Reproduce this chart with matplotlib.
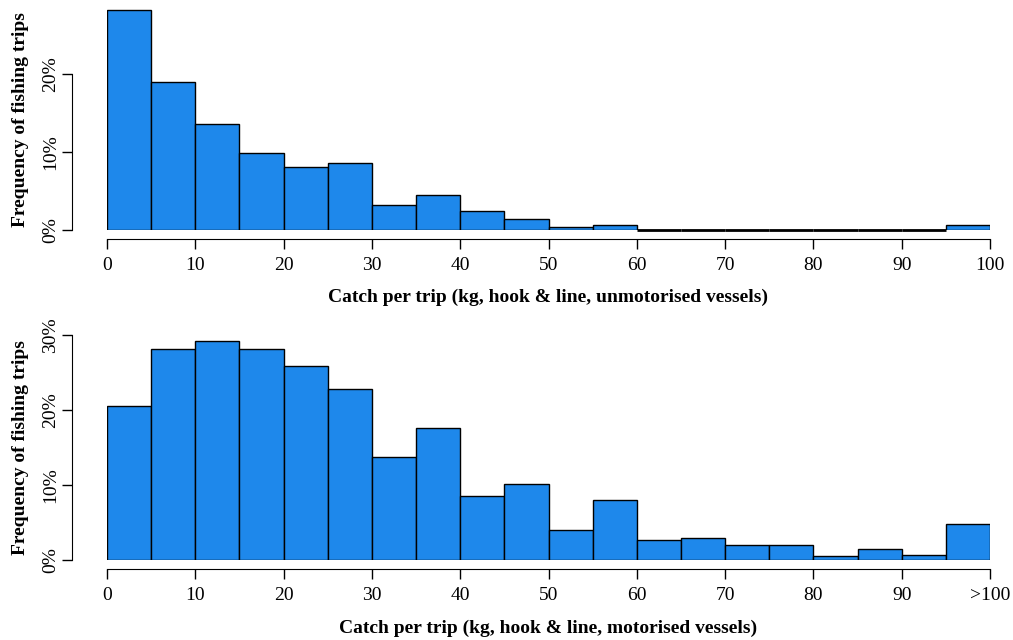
import matplotlib.pyplot as plt
import numpy as np

plt.rcParams['font.family'] = ['Liberation Serif', 'DejaVu Serif']

# bins of 5 kg, 0 to 100
bin_left = np.arange(0, 100, 5)

# percent of trips, unmotorised vessels
unmotorised = [28.2, 19.0, 13.6, 9.9, 8.1, 8.6, 3.2, 4.5, 2.4, 1.4,
               0.4, 0.7, 0, 0, 0, 0, 0, 0, 0, 0.7]
# percent of trips, motorised vessels
motorised = [20.5, 28.1, 29.2, 28.1, 25.9, 22.8, 13.7, 17.6, 8.5, 10.1,
             4.0, 8.0, 2.7, 2.9, 2.0, 2.0, 0.5, 1.5, 0.7, 4.8]

top_xticks = [str(v) for v in range(0, 101, 10)]
bot_xticks = [str(v) for v in range(0, 91, 10)] + ['>100']

W, H = 1013, 640
fig = plt.figure(figsize=(W / 100, H / 100), dpi=100)
bar_color = '#1E88EB'


def panel(y0, px_per_pct, ymax, yticks, values, xlabels, xlabel, xlab_y):
    # y0 = pixel row of 0%, from top
    top = y0 - ymax * px_per_pct
    ax = fig.add_axes([107 / W, 1 - y0 / H, 883 / W, (y0 - top) / H])
    ax.bar(bin_left, values, width=5, align='edge', color=bar_color,
           edgecolor='black', linewidth=1.0)
    # empty bins still show as a flat outline, like R's hist
    empty = bin_left[np.array(values) == 0]
    ax.hlines(np.zeros(len(empty)), empty, empty + 5, color='black',
              linewidth=2.0, clip_on=False)
    ax.set_xlim(0, 100)
    ax.set_ylim(0, ymax)
    for s in ['top', 'right']:
        ax.spines[s].set_visible(False)
    ax.spines['bottom'].set_position(('outward', 6.2))
    ax.spines['left'].set_position(('outward', 25))
    ax.spines['bottom'].set_bounds(0, 100)
    ax.spines['left'].set_bounds(0, yticks[-1])
    ax.set_xticks(np.arange(0, 101, 10))
    ax.set_xticklabels(xlabels, fontsize=14)
    ax.set_yticks(yticks)
    ax.set_yticklabels(['%d%%' % v for v in yticks], fontsize=14,
                       rotation=90, va='center')
    ax.tick_params(axis='both', length=7.5, width=1.0, direction='out')
    ax.tick_params(axis='x', pad=6)
    ax.tick_params(axis='y', pad=2)
    ax.set_facecolor('none')
    fig.text(548 / W, 1 - xlab_y / H, xlabel, fontsize=14, fontweight='bold',
             ha='center', va='center')
    fig.text(21 / W, 1 - (y0 + top) / 2 / H, 'Frequency of fishing trips',
             fontsize=14, fontweight='bold', rotation=90,
             ha='center', va='center')
    return ax


panel(230, 7.8, 28.4, [0, 10, 20], unmotorised, top_xticks,
      'Catch per trip (kg, hook & line, unmotorised vessels)', 297)
panel(560, 7.5, 30, [0, 10, 20, 30], motorised, bot_xticks,
      'Catch per trip (kg, hook & line, motorised vessels)', 628)

fig.savefig('out.png', dpi=100)
